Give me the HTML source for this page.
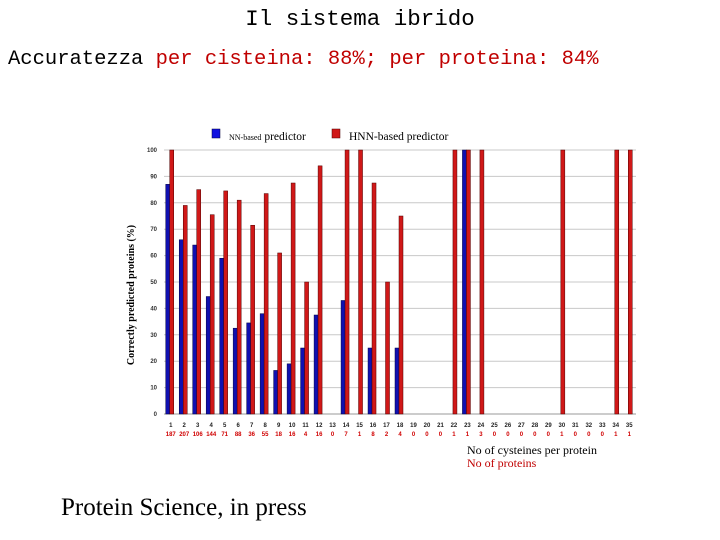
<!DOCTYPE html>
<html><head><meta charset="utf-8"><style>
body{margin:0;background:#fff;width:720px;height:540px;overflow:hidden;position:relative;font-family:"Liberation Sans",sans-serif}
.t{position:absolute;white-space:nowrap}
</style></head><body>
<div class="t" style="left:0;width:720px;top:6px;text-align:center;font-family:'Liberation Mono',monospace;font-size:22.5px;color:#000">Il sistema ibrido</div>
<div class="t" style="left:8px;top:48px;font-family:'Liberation Mono',monospace;font-size:20.5px;color:#000">Accuratezza <span style="color:#c00000">per cisteina: 88%; per proteina: 84%</span></div>
<div class="t" style="left:61px;top:494px;font-family:'Liberation Serif',serif;font-size:25px;color:#000">Protein Science, in press</div>
<svg id="chart" width="720" height="540" style="position:absolute;left:0;top:0">
</svg>
<script>
const categories=[1,2,3,4,5,6,7,8,9,10,11,12,13,14,15,16,17,18,19,20,21,22,23,24,25,26,27,28,29,30,31,32,33,34,35];
const proteinCounts=[187,207,106,144,71,88,36,55,18,16,4,16,0,7,1,8,2,4,0,0,0,1,1,3,0,0,0,0,0,1,0,0,0,1,1];
const nnValues=[87,66,64,44.5,59,32.5,34.5,38,16.5,19,25,37.5,0,43,0,25,0,25,0,0,0,0,100,0,0,0,0,0,0,0,0,0,0,0,0];
const hnnValues=[100,79,85,75.5,84.5,81,71.5,83.5,61,87.5,50,94,0,100,100,87.5,50,75,0,0,0,100,100,100,0,0,0,0,0,100,0,0,0,100,100];
const yTicks=[0,10,20,30,40,50,60,70,80,90,100];
const svg=document.getElementById('chart');
const NS='http://www.w3.org/2000/svg';
const x0=164,x1=636,y0=414,y100=150;
const step=(x1-x0)/categories.length;
const xc=i=>x0+step*(i+0.5);
const y=v=>y0-(y0-y100)*v/100;
function mk(tag,attrs,txt){const e=document.createElementNS(NS,tag);for(const k in attrs)e.setAttribute(k,attrs[k]);if(txt!==undefined)e.textContent=txt;svg.appendChild(e);return e;}
yTicks.forEach(t=>{
  const l=mk('line',{x1:x0,x2:x1,y1:y(t),y2:y(t),stroke:t===0?'#999':'#c8c8c8','stroke-width':1});
  
  
  const tx=mk('text',{x:157,y:y(t)+2,'text-anchor':'end','font-size':6,'font-weight':'bold',fill:'#333'},t);
  
  
});
categories.forEach((c,i)=>{
  const cx=xc(i);
  if(nnValues[i]>0){
    const r=mk('rect',{x:cx-5,y:y(nnValues[i]),width:4,height:y0-y(nnValues[i]),fill:'#1010b0',stroke:'#000040','stroke-width':0.5});
    
    
  }
  if(hnnValues[i]>0){
    const r=mk('rect',{x:cx-1,y:y(hnnValues[i]),width:4,height:y0-y(hnnValues[i]),fill:'#d01818',stroke:'#500000','stroke-width':0.5});
    
    
  }
  const a=mk('text',{x:cx,y:427,'text-anchor':'middle','font-size':6,'font-weight':'bold',fill:'#222'},c);
  
  
  const b=mk('text',{x:cx,y:436,'text-anchor':'middle','font-size':6,'font-weight':'bold',fill:'#d00000'},proteinCounts[i]);
  
  
});
const yt=mk('text',{x:0,y:0,transform:'translate(134,295) rotate(-90)','text-anchor':'middle','font-size':10,'font-family':'Liberation Serif, serif','font-weight':'bold',fill:'#000'},'Correctly predicted proteins (%)');


const ls1=mk('rect',{x:212,y:129,width:8,height:9,fill:'#1010e0',stroke:'#000040','stroke-width':0.5});


const lt1=mk('text',{x:229,y:140,'font-size':11.5,'font-family':'Liberation Serif, serif',fill:'#000'});
lt1.innerHTML='<tspan font-size="8">NN-based</tspan> predictor';


const ls2=mk('rect',{x:332,y:129,width:8,height:9,fill:'#d01818',stroke:'#500000','stroke-width':0.5});


const lt2=mk('text',{x:349,y:140,'font-size':11.5,'font-family':'Liberation Serif, serif',fill:'#000'},'HNN-based predictor');


const n1=mk('text',{x:467,y:454,'font-size':12,'font-family':'Liberation Serif, serif',fill:'#000'},'No of cysteines per protein');


const n2=mk('text',{x:467,y:467,'font-size':12,'font-family':'Liberation Serif, serif',fill:'#c00000'},'No of proteins');


</script>
</body></html>
